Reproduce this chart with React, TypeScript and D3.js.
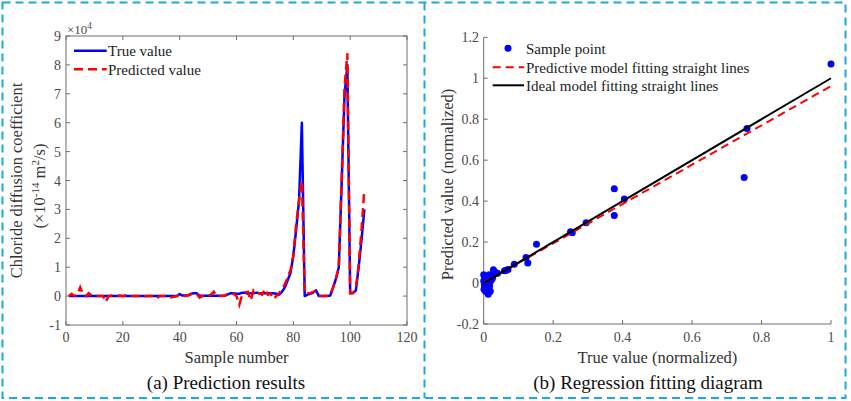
import * as d3 from 'd3'

// Left panel: sample series (values in 1e4 units)
const sampleIds = d3.range(1, 106)
const trueValues = [
  0, 0, 0, 0, 0, 0, 0, 0, 0, 0,
  0, 0, 0, 0, 0, 0, 0, 0, 0, 0,
  0, 0, 0, 0, 0, 0, 0, 0, 0, 0,
  0, 0, 0, 0, 0, 0, 0, 0, 0, 0.07,
  0.02, 0.02, 0.03, 0.08, 0.1, 0.1, 0.01, 0.01, 0.01, 0.01,
  0.01, 0.01, 0.01, 0.01, 0.01, 0.02, 0.06, 0.1, 0.1, 0.08,
  0.08, 0.12, 0.12, 0.08, 0.1, 0.1, 0.12, 0.1, 0.1, 0.1,
  0.1, 0.1, 0.1, 0.08, 0.05, 0.15, 0.3, 0.55, 0.8, 1.4,
  2.3, 3.3, 6.0, 0.0, 0.05, 0.08, 0.12, 0.2, 0.0, 0.0,
  0.0, 0.0, 0.02, 0.3, 0.6, 1.0, 3.9, 6.9, 8.0, 0.1,
  0.1, 0.2, 1.0, 1.95, 3.0,
]
const predictedValues = [
  0, 0.08, 0, 0.05, 0.3, 0.05, 0, 0.1, 0.02, 0,
  0, 0, 0, -0.2, 0, 0.02, 0, 0, 0.02, 0,
  0.03, 0, 0, 0, 0, 0, -0.05, 0, 0, 0,
  0, -0.08, 0, 0, 0, -0.03, -0.05, -0.02, 0, 0.05,
  0, 0, 0.02, 0.06, 0.1, 0.08, -0.05, 0, 0, 0,
  0.05, 0.15, 0, 0, 0, 0.02, 0.08, 0.1, 0.08, 0,
  -0.3, 0.05, 0.12, 0.15, -0.15, 0.2, 0.12, 0.1, 0.05, 0.25,
  0.05, 0.08, -0.1, 0, 0.1, 0.25, 0.4, 0.65, 0.9, 1.4,
  2.5, 3.3, 4.0, 0.1, 0.1, 0.1, 0.15, 0.15, 0.02, 0,
  0, 0.02, 0.05, 0.3, 0.6, 1.0, 4.0, 7.2, 8.4, 0.1,
  0.12, 0.25, 1.1, 2.3, 3.7,
]
const leftXTicks = [0, 20, 40, 60, 80, 100, 120]
const leftYTicks = [-1, 0, 1, 2, 3, 4, 5, 6, 7, 8, 9]

// Right panel: normalized scatter
const normTrue = [
  0, 0, 0.001, 0.002, 0.003, 0.004, 0.005, 0.006, 0.007, 0.008,
  0.01, 0.01, 0.011, 0.012, 0.013, 0.014, 0.015, 0.016, 0.017, 0.018,
  0.019, 0.02, 0.022, 0.024, 0.026, 0.028, 0.03, 0.035, 0.04, 0.06,
  0.065, 0.07, 0.088, 0.122, 0.127, 0.152, 0.25, 0.255, 0.295, 0.376,
  0.376, 0.405, 0.75, 0.758, 1.0,
]
const normPred = [
  0.04, 0.01, -0.03, -0.01, 0.025, 0, -0.04, 0.035, 0.015, -0.02,
  0.03, -0.005, -0.045, 0.02, -0.055, 0.005, -0.03, 0.04, -0.015, 0.025,
  -0.04, 0.01, 0.035, 0.02, 0.03, 0.065, 0.055, 0.05, 0.048, 0.06,
  0.062, 0.066, 0.092, 0.125, 0.098, 0.19, 0.25, 0.245, 0.295, 0.33,
  0.46, 0.41, 0.515, 0.755, 1.07,
]
const fitX = [0, 1]
const predFitY = [0.002, 0.962]
const idealFitY = [0, 1]
const rightXTicks = [0, 0.2, 0.4, 0.6, 0.8, 1]
const rightYTicks = [-0.2, 0, 0.2, 0.4, 0.6, 0.8, 1, 1.2]

const FONT = '"Liberation Serif", "Times New Roman", serif'
const AXIS = '#6e6e6e'
const TICKTXT = '#4a4a4a'
const FRAME = '#1ea6e6'
const fmt = (d: number) => String(+d.toFixed(1))

export default function App() {
  const xL = d3.scaleLinear().domain([0, 120]).range([66, 407])
  const yL = d3.scaleLinear().domain([-1, 9]).range([325, 36])
  const xR = d3.scaleLinear().domain([0, 1]).range([483.7, 831])
  const yR = d3.scaleLinear().domain([-0.2, 1.2]).range([324, 37.3])

  const trueLine = d3.line<number>().x((_, i) => xL(sampleIds[i])).y((d) => yL(d))
  const fitLine = (ys: number[]) =>
    d3.line<number>().x((d) => xR(d)).y((_, i) => yR(ys[i]))(fitX) || ''

  const tk = 4
  return (
    <div style={{ position: 'absolute', left: 0, top: 0 }}>
      <svg width={851} height={401} style={{ display: 'block', fontFamily: FONT }}>
        <rect width={851} height={401} fill="#fff" />
        {/* dashed frames */}
        <rect x={2.5} y={2.5} width={843} height={395.5} fill="none" stroke={FRAME} strokeWidth={2} strokeDasharray="8,5" />
        <line x1={424.5} x2={424.5} y1={2.5} y2={398} stroke={FRAME} strokeWidth={2} strokeDasharray="8,5" />

        {/* ---------- left panel ---------- */}
        <g>
          <rect x={66} y={36} width={341} height={289} fill="none" stroke={AXIS} strokeWidth={1} />
          {leftXTicks.map((t) => (
            <g key={'lx' + t}>
              <line x1={xL(t)} x2={xL(t)} y1={325} y2={325 - tk} stroke={AXIS} />
              <line x1={xL(t)} x2={xL(t)} y1={36} y2={36 + tk} stroke={AXIS} />
              <text x={xL(t)} y={342} textAnchor="middle" fontSize={14} fill={TICKTXT}>{t}</text>
            </g>
          ))}
          {leftYTicks.map((t) => (
            <g key={'ly' + t}>
              <line x1={66} x2={66 + tk} y1={yL(t)} y2={yL(t)} stroke={AXIS} />
              <line x1={407} x2={407 - tk} y1={yL(t)} y2={yL(t)} stroke={AXIS} />
              <text x={61} y={yL(t) + 5} textAnchor="end" fontSize={14} fill={TICKTXT}>{t}</text>
            </g>
          ))}
          <text x={67} y={34} fontSize={13} fill={TICKTXT}>
            ×10<tspan dy={-5} fontSize={9.5}>4</tspan>
          </text>
          <path d={trueLine(trueValues) || ''} fill="none" stroke="#0000ff" strokeWidth={2.5} strokeLinejoin="round" />
          <path d={trueLine(predictedValues) || ''} fill="none" stroke="#ff0000" strokeWidth={2.5} strokeDasharray="9,5" />

          {/* legend */}
          <line x1={74} x2={106.7} y1={50.7} y2={50.7} stroke="#0000ff" strokeWidth={2.5} />
          <text x={108} y={56} fontSize={15} fill="#222">True value</text>
          <line x1={74} x2={106.7} y1={69.3} y2={69.3} stroke="#ff0000" strokeWidth={2.5} strokeDasharray="9,5" />
          <text x={108} y={74.6} fontSize={15} fill="#222">Predicted value</text>

          <text x={236.5} y={362.5} textAnchor="middle" fontSize={16.5} fill="#333">Sample number</text>
          <text transform="translate(22,180.5) rotate(-90)" textAnchor="middle" fontSize={16.5} fill="#333">
            Chloride diffusion coefficient
          </text>
          <text transform="translate(45,186) rotate(-90)" textAnchor="middle" fontSize={16.5} fill="#333">
            (×10<tspan dy={-6} fontSize={11}>-14</tspan>
            <tspan dy={6}> m</tspan>
            <tspan dy={-6} fontSize={11}>2</tspan>
            <tspan dy={6}>/s)</tspan>
          </text>
          <text x={226} y={389} textAnchor="middle" fontSize={19} fill="#111">(a) Prediction results</text>
        </g>

        {/* ---------- right panel ---------- */}
        <g>
          <line x1={483.7} x2={831} y1={324} y2={324} stroke={AXIS} />
          <line x1={483.7} x2={483.7} y1={37.3} y2={324} stroke={AXIS} />
          {rightXTicks.map((t) => (
            <g key={'rx' + t}>
              <line x1={xR(t)} x2={xR(t)} y1={324} y2={324 - tk} stroke={AXIS} />
              <text x={xR(t)} y={342} textAnchor="middle" fontSize={14} fill={TICKTXT}>{fmt(t)}</text>
            </g>
          ))}
          {rightYTicks.map((t) => (
            <g key={'ry' + t}>
              <line x1={483.7} x2={483.7 + tk} y1={yR(t)} y2={yR(t)} stroke={AXIS} />
              <text x={479} y={yR(t) + 5} textAnchor="end" fontSize={14} fill={TICKTXT}>{fmt(t)}</text>
            </g>
          ))}
          {normTrue.map((v, i) => (
            <circle key={'pt' + i} cx={xR(v)} cy={yR(normPred[i])} r={3.5} fill="#0000ff" />
          ))}
          <path d={fitLine(predFitY)} fill="none" stroke="#ff0000" strokeWidth={2} strokeDasharray="8,5" />
          <path d={fitLine(idealFitY)} fill="none" stroke="#000" strokeWidth={2} />

          {/* legend */}
          <circle cx={508} cy={48.3} r={3.5} fill="#0000ff" />
          <text x={526} y={53.6} fontSize={15} fill="#222">Sample point</text>
          <line x1={492.7} x2={524} y1={67.3} y2={67.3} stroke="#ff0000" strokeWidth={2} strokeDasharray="8,5" />
          <text x={526} y={72.6} fontSize={15} fill="#222">Predictive model fitting straight lines</text>
          <line x1={492.7} x2={524} y1={85.3} y2={85.3} stroke="#000" strokeWidth={2} />
          <text x={526} y={90.6} fontSize={15} fill="#222">Ideal model fitting straight lines</text>

          <text x={657.4} y={362.5} textAnchor="middle" fontSize={16.5} fill="#333">True value (normalized)</text>
          <text transform="translate(453,184.5) rotate(-90)" textAnchor="middle" fontSize={16.5} fill="#333">
            Predicted value (normalized)
          </text>
          <text x={648} y={389} textAnchor="middle" fontSize={19} fill="#111">(b) Regression fitting diagram</text>
        </g>
      </svg>
    </div>
  )
}
